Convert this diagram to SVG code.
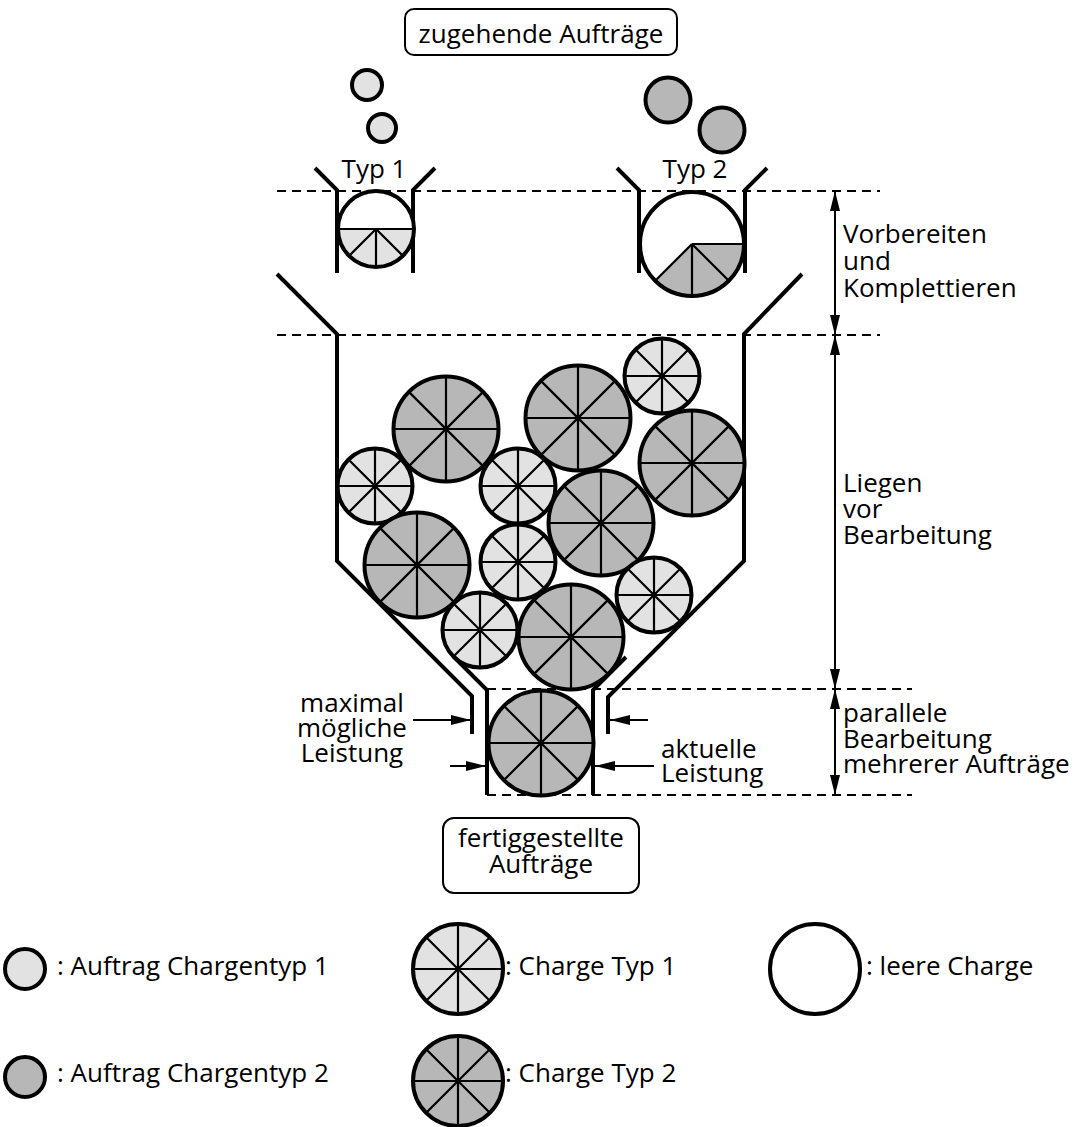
<svg xmlns="http://www.w3.org/2000/svg" xmlns:xlink="http://www.w3.org/1999/xlink" width="1077" height="1127" viewBox="0 0 1077 1127">
  <style>
    text { font-family: "Open Sans", "Noto Sans", "Liberation Sans", sans-serif; font-size: 26px; fill: #000; }
    .mid { text-anchor: middle; }
    .wall { fill: none; stroke: #000; stroke-width: 4; stroke-linecap: butt; stroke-linejoin: miter; }
    .dash { fill: none; stroke: #000; stroke-width: 2; stroke-dasharray: 9 6; }
    .dim { fill: none; stroke: #000; stroke-width: 2; }
    .box { fill: #fff; stroke: #000; stroke-width: 2; }
    .rim { fill: none; stroke: #000; stroke-width: 4; }
    .spoke { stroke: #000; stroke-width: 2.2; }
    .t1 { fill: #e2e2e2; }
    .t2 { fill: #b7b7b7; }
  </style>
  <defs>
    <marker id="ah" viewBox="0 0 20 10" refX="20" refY="5" markerWidth="20" markerHeight="10" markerUnits="userSpaceOnUse" orient="auto-start-reverse">
      <path d="M0,0 L20,5 L0,10 Z" fill="#000"/>
    </marker>
    <!-- charge type 1, small -->
    <g id="c1s">
      <circle r="37.5" class="t1"/>
      <path class="spoke" d="M-37.5,0 H37.5 M0,-37.5 V37.5 M-26.5,-26.5 L26.5,26.5 M-26.5,26.5 L26.5,-26.5"/>
      <circle r="37.5" class="rim"/>
    </g>
    <!-- charge type 2, large -->
    <g id="c2l">
      <circle r="52.5" class="t2"/>
      <path class="spoke" d="M-52.5,0 H52.5 M0,-52.5 V52.5 M-37.1,-37.1 L37.1,37.1 M-37.1,37.1 L37.1,-37.1"/>
      <circle r="52.5" class="rim"/>
    </g>
    <!-- legend charges -->
    <g id="c1m">
      <circle r="45" class="t1"/>
      <path class="spoke" d="M-45,0 H45 M0,-45 V45 M-31.8,-31.8 L31.8,31.8 M-31.8,31.8 L31.8,-31.8"/>
      <circle r="45" class="rim"/>
    </g>
    <g id="c2m">
      <circle r="45" class="t2"/>
      <path class="spoke" d="M-45,0 H45 M0,-45 V45 M-31.8,-31.8 L31.8,31.8 M-31.8,31.8 L31.8,-31.8"/>
      <circle r="45" class="rim"/>
    </g>
  </defs>

  <rect width="1077" height="1127" fill="#fff"/>

  <!-- level lines -->
  <g id="levels">
    <line class="dash" x1="277" y1="191" x2="880" y2="191"/>
    <line class="dash" x1="277" y1="335" x2="880" y2="335"/>
    <line class="dash" x1="487" y1="689" x2="912" y2="689"/>
    <line class="dash" x1="487" y1="795" x2="912" y2="795"/>
  </g>

  <!-- incoming orders -->
  <g id="incoming">
    <rect class="box" x="405" y="9" width="272" height="46" rx="9"/>
    <text class="mid" x="541" y="43">zugehende Aufträge</text>
    <circle cx="367" cy="85" r="15" class="t1" stroke="#000" stroke-width="4"/>
    <circle cx="382" cy="128" r="14" class="t1" stroke="#000" stroke-width="4"/>
    <circle cx="668" cy="100" r="22.5" class="t2" stroke="#000" stroke-width="4"/>
    <circle cx="722" cy="130" r="22.5" class="t2" stroke="#000" stroke-width="4"/>
  </g>

  <!-- preparation bin type 1 -->
  <g id="bin-typ1">
    <text class="mid" x="374" y="178">Typ 1</text>
    <path class="wall" d="M315,168 L337,190 L337,273"/>
    <path class="wall" d="M435,168 L413,190 L413,273"/>
    <circle cx="376" cy="229" r="38" fill="#fff"/>
    <path class="t1" d="M338,229 A38,38 0 0,0 414,229 Z"/>
    <path class="spoke" d="M338,229 H414 M376,229 V267 M376,229 L349.1,255.9 M376,229 L402.9,255.9"/>
    <circle cx="376" cy="229" r="38" class="rim"/>
  </g>

  <!-- preparation bin type 2 -->
  <g id="bin-typ2">
    <text class="mid" x="695" y="178">Typ 2</text>
    <path class="wall" d="M617,168 L639,190 L639,273"/>
    <path class="wall" d="M767,168 L745,190 L745,273"/>
    <circle cx="692" cy="244" r="52" fill="#fff"/>
    <path class="t2" d="M692,244 L744,244 A52,52 0 0,1 655.2,280.8 Z"/>
    <path class="spoke" d="M692,244 H744 M692,244 V296 M692,244 L728.8,280.8 M692,244 L655.2,280.8"/>
    <circle cx="692" cy="244" r="52" class="rim"/>
  </g>

  <!-- funnel walls -->
  <g id="funnel">
    <path class="wall" d="M277,274 L337,334 L337,561 L472,696 L472,734"/>
    <path class="wall" d="M802,274 L744,334 L744,561 L608,697 L608,734"/>
    <path class="wall" d="M453,656 L487,690 L487,795"/>
    <path class="wall" d="M626,657 L593,690 L593,795"/>
  </g>

  <!-- waiting charges -->
  <g id="queue">
    <use xlink:href="#c2l" x="446" y="429"/>
    <use xlink:href="#c2l" x="578" y="418"/>
    <use xlink:href="#c1s" x="662" y="376"/>
    <use xlink:href="#c2l" x="692" y="463"/>
    <use xlink:href="#c1s" x="375" y="486"/>
    <use xlink:href="#c1s" x="518" y="486"/>
    <use xlink:href="#c2l" x="601" y="523"/>
    <use xlink:href="#c2l" x="417" y="565"/>
    <use xlink:href="#c1s" x="518" y="562"/>
    <use xlink:href="#c1s" x="654" y="595"/>
    <use xlink:href="#c1s" x="480" y="630"/>
    <use xlink:href="#c2l" x="571" y="637"/>
  </g>

  <!-- charge in processing -->
  <g id="processing">
    <use xlink:href="#c2l" x="541" y="743"/>
  </g>

  <!-- capacity arrows -->
  <g id="connectors">
    <line class="dim" x1="413" y1="720" x2="471" y2="720" marker-end="url(#ah)"/>
    <line class="dim" x1="648" y1="720" x2="610" y2="720" marker-end="url(#ah)"/>
    <line class="dim" x1="450" y1="766" x2="486" y2="766" marker-end="url(#ah)"/>
    <line class="dim" x1="654" y1="766" x2="595" y2="766" marker-end="url(#ah)"/>
    <line class="dim" x1="835" y1="191" x2="835" y2="335" marker-start="url(#ah)" marker-end="url(#ah)"/>
    <line class="dim" x1="835" y1="335" x2="835" y2="689" marker-start="url(#ah)" marker-end="url(#ah)"/>
    <line class="dim" x1="835" y1="689" x2="835" y2="795" marker-start="url(#ah)" marker-end="url(#ah)"/>
  </g>

  <!-- capacity labels -->
  <g id="label-max">
    <text class="mid" x="352" y="712">maximal</text>
    <text class="mid" x="352" y="737">mögliche</text>
    <text class="mid" x="352" y="762">Leistung</text>
  </g>
  <g id="label-actual">
    <text x="661" y="758">aktuelle</text>
    <text x="661" y="782">Leistung</text>
  </g>

  <!-- phase labels -->
  <g id="label-prepare">
    <text x="843" y="243">Vorbereiten</text>
    <text x="843" y="270">und</text>
    <text x="843" y="297">Komplettieren</text>
  </g>
  <g id="label-wait">
    <text x="843" y="492">Liegen</text>
    <text x="843" y="518">vor</text>
    <text x="843" y="544">Bearbeitung</text>
  </g>
  <g id="label-parallel">
    <text x="843" y="722">parallele</text>
    <text x="843" y="748">Bearbeitung</text>
    <text x="843" y="773">mehrerer Aufträge</text>
  </g>

  <!-- finished orders -->
  <g id="finished">
    <rect class="box" x="443" y="818" width="196" height="75" rx="11"/>
    <text class="mid" x="541" y="847">fertiggestellte</text>
    <text class="mid" x="541" y="873">Aufträge</text>
  </g>

  <!-- legend -->
  <g id="legend">
    <circle cx="25" cy="969" r="20" class="t1" stroke="#000" stroke-width="4"/>
    <text x="57" y="975">: Auftrag Chargentyp 1</text>
    <circle cx="25" cy="1077" r="20" class="t2" stroke="#000" stroke-width="4"/>
    <text x="57" y="1082">: Auftrag Chargentyp 2</text>
    <use xlink:href="#c1m" x="458" y="969"/>
    <text x="505" y="975">: Charge Typ 1</text>
    <use xlink:href="#c2m" x="458" y="1081"/>
    <text x="505" y="1082">: Charge Typ 2</text>
    <circle cx="815" cy="969" r="45" fill="#fff" stroke="#000" stroke-width="4"/>
    <text x="866" y="975">: leere Charge</text>
  </g>
</svg>
